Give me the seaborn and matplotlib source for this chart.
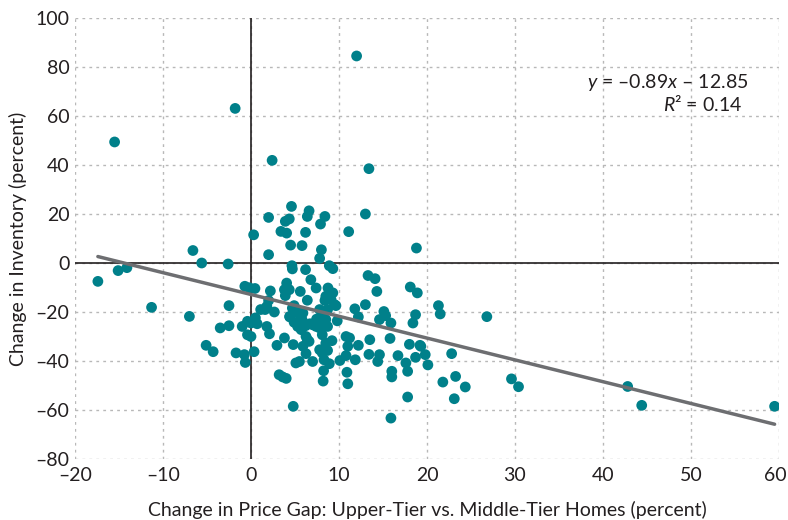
import matplotlib
matplotlib.use("Agg")
import matplotlib.pyplot as plt
import matplotlib.transforms as mtransforms
import seaborn as sns
import pandas as pd
import numpy as np

# ---- data ----
price_gap_change = [
    -17.4, -15.1, -14.1, -11.3, -15.5, -1.8, 2.4, 12.0, 13.4,
    -6.6, -5.6, -2.6, 0.3, 2.0, 2.0, 4.6, 3.9, 4.35, 3.4, 4.05, 4.5, 5.8, 6.2, 6.6, 6.4, 8.4, 7.9, 8.0, 7.8, 11.1, 13.0,
    4.65, 4.7, 6.2, 8.9, 9.3, 6.8, 7.4, 4.05, 3.8, 4.35, 5.6, 2.2, -0.7, 0.45, -0.2, 3.9, 6.4, 8.75, 9.3, 8.4, 9.5,
    2.0, 1.8, 1.1, 1.6, 2.65, -2.5, -7.0, 4.9, 5.1, 5.9, 4.4, 7.8, 8.1, 8.7, 8.5, 9.8, 11.8, 13.0, 13.3, 14.1, 14.3,
    12.2, 15.1, 15.3, 14.6, 15.9, 0.5, 0.0, 0.7, -1.0, -0.4, -2.5, -3.5, 1.8, 2.1, -0.4, 0.0, 3.8, 4.4, 4.9, 5.3, 5.7,
    6.2, 6.7, 7.4, 7.8, 8.2, 6.25, 6.6, 8.1, 4.8, 2.95, 5.9, 6.25, 7.8, 8.1, 8.5, 9.2, 8.7, -5.1, -4.3, -1.7, -0.75,
    -0.65, 0.35, 5.1, 5.5, 7.0, 8.3, 8.9, 8.25, 8.2, 3.2, 3.6, 4.0, 4.8, 10.1, 10.8, 11.2, 11.0, 10.8, 11.85, 12.2,
    10.9, 11.0, 13.5, 13.4, 14.6, 14.4, 15.8, 16.7, 16.0, 16.0, 15.9,
    5.3, 5.8, 7.0, 8.7, 9.1, 9.65, 8.5, 7.45, 6.4, 4.7,
    18.8, 18.1, 18.9, 21.3, 21.5, 26.8, 18.7, 18.4, 18.0, 19.2, 19.3, 18.7, 19.8, 20.1, 17.6, 17.8, 22.8, 21.8,
    23.25, 23.1, 24.35, 17.8, 29.6, 30.4, 42.8, 44.4, 59.5,
]
inventory_change = [
    -7.5, -3.1, -1.9, -18.1, 49.4, 63.1, 41.9, 84.5, 38.5,
    5.1, 0.0, -0.4, 11.5, 18.6, 3.4, 23.1, 17.0, 18.0, 12.9, 12.2, 7.3, 7.1, 12.5, 21.3, 19.0, 19.0, 15.9, 5.4, 1.9, 12.8, 20.0,
    -1.1, -2.4, -2.7, -1.1, -2.3, -6.8, -10.2, -8.2, -10.9, -10.9, -11.6, -11.4, -9.5, -10.4, -10.1, -13.3, -15.2, -10.2, -12.2, -15.3, -17.0,
    -15.3, -17.7, -19.0, -19.0, -20.0, -17.4, -21.8, -17.4, -19.0, -20.4, -21.8, -19.0, -21.1, -19.0, -23.1, -23.6, -18.7, -17.0, -5.1, -6.4, -11.6,
    -22.0, -19.8, -21.5, -23.1, -24.5, -22.4, -24.5, -24.8, -25.9, -23.8, -25.6, -26.5, -25.9, -28.9, -29.3, -30.0, -30.6, -22.0, -24.2, -25.9, -27.2,
    -25.6, -24.8, -25.9, -26.5, -25.9, -30.0, -32.0, -29.3, -33.3, -33.6, -34.0, -37.0, -35.4, -36.7, -32.7, -31.7, -35.7, -33.6, -36.2, -36.7, -37.4,
    -40.6, -36.2, -40.8, -40.2, -40.2, -39.5, -41.1, -44.0, -48.2, -45.6, -46.5, -47.1, -58.5, -39.8, -30.0, -30.6, -34.0, -37.8, -39.5, -33.6,
    -44.6, -49.3, -31.3, -37.3, -37.4, -40.2, -30.8, -37.8, -44.2, -46.5, -63.3,
    -20.4, -23.1, -25.2, -25.9, -15.0, -17.4, -13.6, -22.9, -31.3, -18.4,
    6.1, -9.8, -12.2, -17.4, -20.8, -21.9, -21.1, -24.5, -33.2, -33.6, -34.0, -38.5, -37.4, -41.6, -40.8, -44.2, -37.0, -48.6,
    -46.3, -55.4, -50.6, -54.7, -47.3, -50.5, -50.4, -58.1, -58.5,
]
fit_slope = -0.89
fit_intercept = -12.85
x_ticks = [-20, -10, 0, 10, 20, 30, 40, 50, 60]
y_ticks = [-80, -60, -40, -20, 0, 20, 40, 60, 80, 100]
x_label = "Change in Price Gap: Upper-Tier vs. Middle-Tier Homes (percent)"
y_label = "Change in Inventory (percent)"

df = pd.DataFrame({"gap": price_gap_change, "inv": inventory_change})

sns.set_theme(style="white")
plt.rcParams['font.family'] = ['Lato', 'DejaVu Sans']
plt.rcParams['mathtext.fontset'] = 'custom'
plt.rcParams['mathtext.rm'] = 'Lato'
plt.rcParams['mathtext.it'] = 'Lato:italic'

fig = plt.figure(figsize=(7.88, 5.2), dpi=100)
ax = fig.add_axes([75 / 788, 1 - 459 / 520, (779 - 75) / 788, (459 - 18) / 520])

ax.set_xlim(-20, 60)
ax.set_ylim(-80, 100)
ax.set_xticks(x_ticks)
ax.set_yticks(y_ticks)
ax.set_xticklabels([str(t).replace("-", "\u2013") for t in x_ticks])
ax.set_yticklabels([str(t).replace("-", "\u2013") for t in y_ticks])
ax.grid(True, color="#b8b8b8", linestyle=(0, (2, 3)), linewidth=1.0)
for s in ax.spines.values():
    s.set_visible(False)
ax.tick_params(axis="x", length=0, labelsize=14, colors="#231f20", pad=6)
ax.tick_params(axis="y", length=0, labelsize=14, colors="#231f20", pad=4)

# keep the last x tick label inside the figure
last = ax.get_xticklabels()[-1]
last.set_horizontalalignment("right")
last.set_transform(last.get_transform() + mtransforms.ScaledTranslation(8 / 100, 0, fig.dpi_scale_trans))

ax.axhline(0, color="#231f20", linewidth=1.2, zorder=2)
ax.axvline(0, color="#231f20", linewidth=1.2, zorder=2)

sns.scatterplot(data=df, x="gap", y="inv", ax=ax, color="#00808a", s=60,
                edgecolor="none", linewidth=0, zorder=3)

xs = np.array([min(price_gap_change), max(price_gap_change)])
ax.plot(xs, fit_slope * xs + fit_intercept, color="#6d6e71", linewidth=2.5, zorder=4)

ax.set_xlabel(x_label, fontsize=14, color="#231f20", labelpad=12)
ax.set_ylabel(y_label, fontsize=14, color="#231f20", labelpad=6)

ax.text(0.957, 0.842, "$y$ = \u20130.89$x$ \u2013 12.85", transform=ax.transAxes,
        ha="right", va="baseline", fontsize=14, color="#231f20")
ax.text(0.947, 0.790, "$R$\u00b2 = 0.14", transform=ax.transAxes,
        ha="right", va="baseline", fontsize=14, color="#231f20")

fig.savefig("out.png", dpi=100)
